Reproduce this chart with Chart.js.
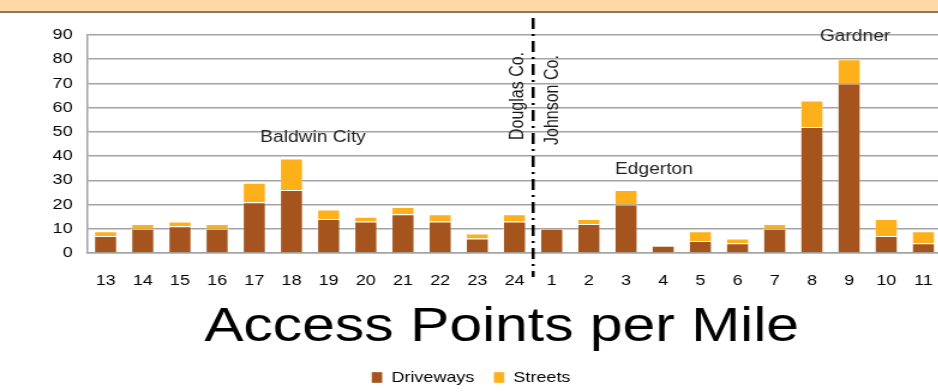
<!DOCTYPE html>
<html>
<head>
<meta charset="utf-8">
<script src="https://cdn.jsdelivr.net/npm/chart.js@4.4.1/dist/chart.umd.min.js"></script>
<style>
    body { margin: 0; width: 938px; height: 392px; overflow: hidden; background: #fff; }
    #band { position: absolute; left: 0; top: 0; width: 938px; height: 11px; background: #ffd8a8; border-bottom: 2px solid #8c7660; }
    /* the original picture is stretched sideways, so draw narrow and widen */
    #wrap { position: absolute; left: 0; top: 0; width: 785px; height: 392px; transform: scaleX(1.2); transform-origin: 0 0; }
</style>
</head>
<body>
<div id="wrap"><canvas id="chart"></canvas></div>
<div id="band"></div>
<script>
// mile markers, Douglas Co. then Johnson Co.
const miles = ['13', '14', '15', '16', '17', '18', '19', '20', '21', '22', '23', '24',
               '1', '2', '3', '4', '5', '6', '7', '8', '9', '10', '11'];
const driveways = [7, 10, 11, 10, 21, 26, 14, 13, 16, 13, 6, 13,
                   10, 12, 20, 3, 5, 4, 10, 52, 70, 7, 4];
const streets = [2, 2, 2, 2, 8, 13, 4, 2, 3, 3, 2, 3,
                 0, 2, 6, 0, 4, 2, 2, 11, 10, 7, 5];
const yTicks = [0, 10, 20, 30, 40, 50, 60, 70, 80, 90];

const towns = ['Baldwin City', 'Edgerton', 'Gardner'];
const townSpot = [5.58, 14.75, 20.16];   // category position
const townLevel = [47.5, 34.3, 89.2];    // y value
const counties = ['Douglas Co.', 'Johnson Co.'];

const brown = '#a5541e';
const gold = '#fdb01a';
const grid = '#a3a3a3';

const overlay = {
    id: 'overlay',
    afterLayout(chart) {
        // nudge legend down a little
        chart.legend.top += 3;
        chart.legend.bottom += 3;
    },
    afterDatasetsDraw(chart) {
        const ctx = chart.ctx;
        const x = chart.scales.x, y = chart.scales.y;
        ctx.save();

        // county line between 24 and 1
        const xd = (x.getPixelForValue(11) + x.getPixelForValue(12)) / 2;
        ctx.strokeStyle = '#000';
        ctx.lineWidth = 2.5;
        ctx.setLineDash([11, 5, 2, 5]);
        ctx.beginPath();
        ctx.moveTo(xd, 18);
        ctx.lineTo(xd, 277);
        ctx.stroke();
        ctx.setLineDash([]);

        // county names
        ctx.fillStyle = '#1a1a1a';
        ctx.font = '16px "Liberation Sans", Arial, sans-serif';
        ctx.textBaseline = 'middle';
        ctx.textAlign = 'left';
        [[xd - 12.5, 140], [xd + 16.5, 145]].forEach((p, i) => {
            ctx.save();
            ctx.translate(p[0], p[1]);
            ctx.rotate(-Math.PI / 2);
            ctx.fillText(counties[i], 0, 0);
            ctx.restore();
        });

        // town names
        ctx.textAlign = 'center';
        ctx.fillStyle = '#222';
        towns.forEach((t, i) => {
            ctx.fillText(t, x.getPixelForValue(townSpot[i]), y.getPixelForValue(townLevel[i]));
        });

        // axis caption
        ctx.fillStyle = '#000';
        ctx.font = '49px "Liberation Sans", Arial, sans-serif';
        ctx.textBaseline = 'alphabetic';
        ctx.fillText('Access Points per Mile', 418, 341);
        ctx.restore();
    }
};

const config = {
    type: 'bar',
    data: {
        labels: miles,
        datasets: [{
            label: 'Driveways',
            data: driveways,
            backgroundColor: brown,
            borderColor: 'rgba(255,255,255,0.35)',
            borderWidth: 1,
            categoryPercentage: 1,
            barPercentage: 0.63
        }, {
            label: 'Streets',
            data: streets,
            backgroundColor: gold,
            borderColor: 'rgba(255,255,255,0.35)',
            borderWidth: 1,
            categoryPercentage: 1,
            barPercentage: 0.63
        }]
    },
    options: {
        responsive: true,
        maintainAspectRatio: false,
        animation: false,
        layout: {
            padding: { top: 35, left: 0, right: 0, bottom: 0 }
        },
        plugins: {
            tooltip: { enabled: false },
            legend: {
                position: 'bottom',
                labels: {
                    boxWidth: 9,
                    boxHeight: 11,
                    padding: 16,
                    color: '#000',
                    font: { family: '"Liberation Sans", Arial, sans-serif', size: 15 }
                }
            }
        },
        scales: {
            x: {
                stacked: true,
                // invisible tick marks push the labels down without side padding
                grid: { display: true, drawOnChartArea: false, drawTicks: true, tickLength: 19, color: 'rgba(0,0,0,0)' },
                border: { display: true, color: grid, width: 1.5 },
                ticks: {
                    padding: 0,
                    color: '#000',
                    maxRotation: 0,
                    autoSkip: false,
                    font: { family: '"Liberation Sans", Arial, sans-serif', size: 15 }
                },
                afterFit: (scale) => { scale.height = 98; }
            },
            y: {
                stacked: true,
                min: 0,
                max: 90,
                afterBuildTicks: (scale) => { scale.ticks = yTicks.map(v => ({ value: v })); },
                grid: { color: grid, lineWidth: 1.5, drawTicks: false },
                border: { display: true, color: grid, width: 1.5 },
                ticks: {
                    padding: 12,
                    color: '#000',
                    font: { family: '"Liberation Sans", Arial, sans-serif', size: 15 }
                },
                afterFit: (scale) => { scale.width = 72.5; }
            }
        }
    },
    plugins: [overlay]
};

new Chart(document.getElementById('chart'), config);
</script>
</body>
</html>
